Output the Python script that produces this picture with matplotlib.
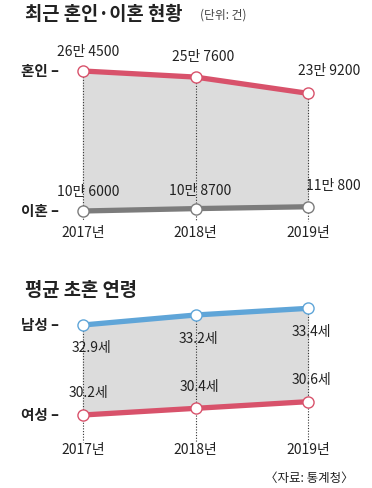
import matplotlib
matplotlib.use("Agg")
import matplotlib.pyplot as plt

plt.rcParams['font.family'] = ['Noto Sans CJK KR', 'DejaVu Sans']

years = [2017, 2018, 2019]
year_labels = ["2017년", "2018년", "2019년"]

# 혼인/이혼 건수 (만 단위)
marriage = [26.45, 25.76, 23.92]
divorce = [10.60, 10.87, 11.08]
marriage_labels = ["26만 4500", "25만 7600", "23만 9200"]
divorce_labels = ["10만 6000", "10만 8700", "11만 800"]

# 평균 초혼 연령
men_age = [32.9, 33.2, 33.4]
women_age = [30.2, 30.4, 30.6]
men_labels = ["32.9세", "33.2세", "33.4세"]
women_labels = ["30.2세", "30.4세", "30.6세"]

RED = "#d8526b"
BLUE = "#5fa5d8"
GREY = "#7c7c7c"
FILL = "#dcdcdc"
TXT = "#222222"

W, H = 372, 488
fig = plt.figure(figsize=(W / 100, H / 100), dpi=100)


def make_ax(top_px, bot_px):
    ax = fig.add_axes([0, 1 - bot_px / H, 1, (bot_px - top_px) / H])
    ax.set_axis_off()
    ax.set_xlim(2016.262, 2019.569)
    return ax


def draw_panel(ax, upper, lower, ucol, lcol, ulab, llab, uoff, loff, name_u, name_l, line_bottom):
    ax.fill_between(years, upper, lower, color=FILL, zorder=1)
    for x, yu in zip(years, upper):
        ax.plot([x, x], [yu, line_bottom], color="#333333", lw=0.8, ls=(0, (1, 1.5)), zorder=2)
    ax.plot(years, upper, color=ucol, lw=3.8, zorder=3, solid_capstyle="butt")
    ax.plot(years, lower, color=lcol, lw=3.8, zorder=3, solid_capstyle="butt")
    ax.plot(years, upper, "o", ms=8, mfc="white", mec=ucol, mew=1.0, zorder=4)
    ax.plot(years, lower, "o", ms=8, mfc="white", mec=lcol, mew=1.0, zorder=4)
    for x, y, t, o in zip(years, upper, ulab, uoff):
        ax.annotate(t, (x, y), xytext=o, textcoords="offset pixels", ha="center",
                    va="center", fontsize=10, color=TXT, zorder=5)
    for x, y, t, o in zip(years, lower, llab, loff):
        ax.annotate(t, (x, y), xytext=o, textcoords="offset pixels", ha="center",
                    va="center", fontsize=10, color=TXT, zorder=5)
    ax.annotate(name_u + " –", (2016.262, upper[0]), xytext=(21, 0), textcoords="offset pixels",
                ha="left", va="center", fontsize=10.5, fontweight="bold", color=TXT)
    ax.annotate(name_l + " –", (2016.262, lower[0]), xytext=(21, 0), textcoords="offset pixels",
                ha="left", va="center", fontsize=10.5, fontweight="bold", color=TXT)


# 상단: 혼인·이혼
ax1 = make_ax(30, 245)
ax1.set_ylim(6.75, 31.09)
draw_panel(ax1, marriage, divorce, RED, GREY, marriage_labels, divorce_labels,
           [(5, 19), (8, 20), (21, 22)], [(5, 19), (5, 18), (25, 21)],
           "혼인", "이혼", 9.5)
for x, t in zip(years, year_labels):
    ax1.annotate(t, (x, 6.75), xytext=(0, 12), textcoords="offset pixels", ha="center",
                 va="center", fontsize=10, color=TXT)

# 하단: 평균 초혼 연령
ax2 = make_ax(280, 470)
ax2.set_ylim(28.55, 34.25)
draw_panel(ax2, men_age, women_age, BLUE, RED, men_labels, women_labels,
           [(8, -23), (3, -24), (3, -24)], [(5, 22), (4, 21), (4, 22)],
           "남성", "여성", 29.4)
for x, t in zip(years, year_labels):
    ax2.annotate(t, (x, 28.55), xytext=(0, 20), textcoords="offset pixels", ha="center",
                 va="center", fontsize=10, color=TXT)

fig.text(25 / W, 1 - 14 / H, "최근 혼인·이혼 현황", fontsize=13.5, fontweight="bold",
         color=TXT, ha="left", va="center")
fig.text(200 / W, 1 - 15 / H, "(단위: 건)", fontsize=8.5, color="#444444",
         ha="left", va="center")
fig.text(25 / W, 1 - 290 / H, "평균 초혼 연령", fontsize=13.5, fontweight="bold",
         color=TXT, ha="left", va="center")
fig.text(354 / W, 1 - 478 / H, "〈자료: 통계청〉", fontsize=9, color=TXT,
         ha="right", va="center")

fig.savefig("out.png", dpi=100)
